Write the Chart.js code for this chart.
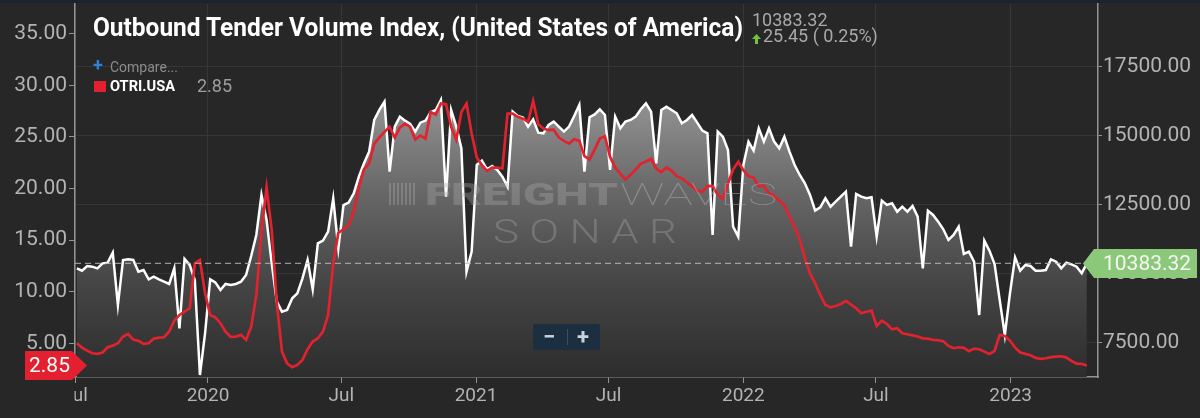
<!DOCTYPE html>
<html><head><meta charset="utf-8">
<script src="https://cdn.jsdelivr.net/npm/chart.js@4.4.1/dist/chart.umd.min.js"></script>
<style>
html,body{margin:0;padding:0;background:#272727;}
#wrap{position:relative;width:1200px;height:418px;overflow:hidden;background:#272727;font-family:Roboto,'Noto Sans',sans-serif;}
#c{position:absolute;left:0;top:0;}
#topbar{position:absolute;left:0;top:0;width:1200px;height:3px;background:#1b2330;}
.t{position:absolute;white-space:nowrap;line-height:1;pointer-events:none;}
.wm{position:absolute;white-space:nowrap;line-height:1;pointer-events:none;}
</style></head>
<body>
<div id="wrap">
  <canvas id="c"></canvas>
  <div id="topbar"></div>
  <div class="t" id="title" style="left:93px;top:14.7px;font-size:25px;font-weight:700;color:#ffffff;">Outbound Tender Volume Index, (United States of America)</div>
  <div class="t" style="left:93px;top:56px;font-size:18px;font-weight:700;color:#2f80d8;">+</div>
  <div class="t" style="left:110px;top:60px;font-size:14px;color:#8c8c8c;">Compare...</div>
  <div class="t" style="left:94px;top:81px;width:12px;height:11px;background:#e3202f;"></div>
  <div class="t" id="legname" style="left:110px;top:79px;font-size:15px;font-weight:700;color:#ffffff;">OTRI.USA</div>
  <div class="t" id="legval" style="left:197px;top:77px;font-size:18px;color:#9d9d9d;"></div>
  <div class="t" id="lastval" style="left:752px;top:10.7px;font-size:18px;color:#a9a9a9;"></div>
  <svg class="t" style="left:752px;top:34px;" width="9" height="10" viewBox="0 0 9 10"><path d="M4.5 0 L9 5 L6 5 L6 10 L3 10 L3 5 L0 5 Z" fill="#72c13f"/></svg>
  <div class="t" id="chg" style="left:763px;top:27px;font-size:18px;color:#a9a9a9;"></div>

  <div class="wm" style="left:389px;top:183px;width:26px;height:22px;background:repeating-linear-gradient(90deg,rgba(170,170,170,0.38) 0 2px,transparent 2px 4px);"></div>
  <div class="wm" id="wm1" style="left:425px;top:179px;font-size:31px;font-weight:900;color:rgba(170,170,170,0.36);">FREIGHT</div>
  <div class="wm" id="wm2" style="left:620px;top:179px;font-size:31px;font-weight:100;color:rgba(190,190,190,0.42);">WAVES</div>
  <div class="wm" id="wm3" style="left:493px;top:213.6px;font-size:34px;font-weight:300;letter-spacing:8px;color:rgba(170,170,170,0.36);">SONAR</div>

  <div class="t" style="left:533px;top:324px;width:67px;height:26px;background:#1c2f40;border-radius:2px;"></div>
  <div class="t" style="left:540px;top:326px;width:18px;text-align:center;font-size:22px;font-weight:700;color:#c9d3dd;">&#8722;</div>
  <div class="t" style="left:567px;top:329px;width:1px;height:16px;background:#3a4f62;"></div>
  <div class="t" style="left:574px;top:326px;width:18px;text-align:center;font-size:22px;font-weight:700;color:#c9d3dd;">+</div>
</div>
<script>
// ---------------- data ----------------
const weekStart = '2019-07-06';
const otviValues = [
10205,10121,10290,10266,10205,10387,10411,10773,8877,10507,
10531,10507,10085,10145,9807,9903,9807,9722,9638,10205,
8031,10544,10326,9783,6340,7850,9807,9698,9420,9638,
9601,9638,9722,9964,10652,11413,12863,11957,10387,8997,
8635,8695,9118,9299,9843,10507,9444,11111,11208,11534,
12742,10930,12500,12585,12923,13527,14010,14433,15581,15943,
16245,13709,15339,15702,15557,15436,15158,15484,15557,15859,
15943,16306,12803,15943,15339,14554,10085,10809,13950,14107,
13793,13914,13769,13527,13165,15883,15726,15665,15339,15605,
15122,15098,15400,15521,15339,15158,15339,15726,16125,13709,
15680,15780,15968,15762,13769,15702,15279,15521,15581,15702,
15968,16185,15883,14010,15943,16064,15943,15823,15460,15581,
15762,15484,15194,15098,11413,15158,14977,14494,11715,11353,
13950,14796,14470,15279,14796,15279,14796,14554,14977,14434,
13950,13588,13286,12863,12295,12416,12742,12440,12621,12803,
12984,10991,12899,12803,12742,12778,11353,12658,12501,12561,
12259,12440,12259,12464,12078,10205,12295,12138,11897,11619,
11232,11413,11715,10725,10809,10447,8514,11208,10846,10362,
9058,7789,9299,10604,10121,10326,10290,10121,10121,10145,
10532,10447,10205,10411,10350,10266,10030,10383.32
];
const otriValues = [
5.00,4.58,4.29,4.03,3.97,4.10,4.61,4.77,5.00,5.65,
5.90,5.35,5.23,4.94,5.00,5.45,5.55,5.58,6.13,7.19,
7.74,8.06,8.39,12.74,13.06,9.84,7.74,7.52,6.94,6.13,
5.61,5.65,5.81,5.32,6.61,9.68,15.81,20.10,15.97,8.87,
4.19,3.06,2.68,2.90,3.39,4.42,5.16,5.48,6.13,7.74,
12.74,15.71,16.03,16.45,17.74,20.16,21.87,22.42,24.35,24.94,
25.48,25.97,24.94,25.90,26.29,25.97,24.74,25.13,24.84,27.42,
27.16,28.23,28.16,25.97,24.74,27.42,28.23,25.32,23.00,22.26,
21.71,22.03,22.03,21.94,27.26,27.26,26.94,26.77,26.45,28.48,
26.23,25.81,25.65,25.71,24.94,24.61,24.35,24.77,24.61,23.13,
22.80,23.80,24.84,25.06,23.06,22.03,21.45,20.87,21.32,21.84,
22.42,22.61,22.87,21.94,21.58,22.03,21.71,21.19,20.97,20.58,
20.23,19.77,19.68,20.26,20.23,19.39,19.03,20.48,21.84,22.58,
21.77,21.19,21.06,20.23,20.23,19.52,19.29,18.81,18.39,17.26,
16.23,15.06,13.23,11.77,10.81,9.68,8.71,8.48,8.61,8.81,
9.10,8.75,8.39,7.90,8.06,8.16,6.68,7.19,6.87,6.35,
6.45,5.97,5.87,5.77,5.65,5.48,5.45,5.32,5.29,5.19,
4.74,4.52,4.61,4.55,4.23,4.48,4.42,4.19,3.97,4.26,
5.81,5.71,5.26,4.58,4.10,3.97,3.84,3.58,3.48,3.55,
3.65,3.71,3.74,3.61,3.29,3.03,3.00,2.85
];
const xTickDates = ['2019-07-01','2020-01-01','2020-07-01','2021-01-01','2021-07-01','2022-01-01','2022-07-01','2023-01-01'];
const xTickLabels = ['Jul','2020','Jul','2021','Jul','2022','Jul','2023'];
const leftTicks = [5,10,15,20,25,30,35];
const rightTicks = [7500,10000,12500,15000,17500];
const otviChange = 25.45;
const otviChangePct = 0.25;

// ---------------- derived ----------------
const DAY = 86400000;
const t0 = Date.parse(weekStart + 'T00:00:00Z');
const weekDates = otviValues.map((_, i) => t0 + i * 7 * DAY);
const xMin = Date.parse('2019-07-03T10:00:00Z');
const xMax = xMin + 1396.8 * DAY;
const lastOtvi = otviValues[otviValues.length - 1];
const lastOtri = otriValues[otriValues.length - 1];

document.getElementById('legval').textContent = lastOtri.toFixed(2);
document.getElementById('lastval').textContent = lastOtvi.toFixed(2);
document.getElementById('chg').textContent = otviChange.toFixed(2) + ' ( ' + otviChangePct.toFixed(2) + '%)';

const BG = '#272727';
const TICK = '#b3b3b3';
const AXIS = '#939393';

Chart.defaults.font.family = 'Roboto';

function noPad(s) { s.paddingTop = 0; s.paddingBottom = 0; s.paddingLeft = 0; s.paddingRight = 0; }

const overlay = {
  id: 'overlay',
  afterDatasetsDraw(chart) {
    const c = chart.ctx, a = chart.chartArea, y1 = chart.scales.y1, x = chart.scales.x;
    const yy = y1.getPixelForValue(lastOtvi);
    c.save();
    c.strokeStyle = 'rgba(185,190,180,0.75)';
    c.lineWidth = 1.2;
    c.setLineDash([6, 4]);
    c.beginPath();
    c.moveTo(a.left, yy);
    c.lineTo(x.getPixelForValue(weekDates[weekDates.length - 1]), yy);
    c.stroke();
    c.restore();
  },
  afterDraw(chart) {
    const c = chart.ctx, a = chart.chartArea;
    c.save();
    // hide the part of the first x label left of the plot
    c.fillStyle = BG;
    c.fillRect(0, a.bottom + 3, a.left - 0.5, 418 - a.bottom);
    // red tag (left)
    const yr = chart.scales.y.getPixelForValue(lastOtri);
    c.fillStyle = '#e3202f';
    c.beginPath();
    c.moveTo(25, yr - 14.5); c.lineTo(72, yr - 14.5); c.lineTo(87, yr);
    c.lineTo(72, yr + 14.5); c.lineTo(25, yr + 14.5); c.closePath(); c.fill();
    c.fillStyle = '#ffffff';
    c.font = '21px Roboto';
    c.textBaseline = 'middle';
    c.textAlign = 'left';
    c.fillText(lastOtri.toFixed(2), 29, yr + 1);
    // green tag (right)
    const yg = chart.scales.y1.getPixelForValue(lastOtvi);
    c.fillStyle = '#8cc87a';
    c.beginPath();
    c.moveTo(1083, yg); c.lineTo(1094, yg - 14.5); c.lineTo(1197, yg - 14.5);
    c.lineTo(1197, yg + 14.5); c.lineTo(1094, yg + 14.5); c.closePath(); c.fill();
    c.fillStyle = '#f4f8f2';
    c.fillText(lastOtvi.toFixed(2), 1103, yg + 1);
    c.restore();
  }
};

const ctx = document.getElementById('c');
new Chart(ctx, {
  type: 'line',
  data: {
    datasets: [
      {
        label: 'OTVI.USA',
        data: otviValues.map((v, i) => ({ x: weekDates[i], y: v })),
        yAxisID: 'y1',
        borderColor: '#ffffff',
        borderWidth: 2.5,
        borderJoinStyle: 'miter',
        pointRadius: 0,
        tension: 0,
        fill: 'start',
        order: 2,
        backgroundColor: (context) => {
          const ch = context.chart, ar = ch.chartArea;
          if (!ar) return 'rgba(110,110,110,1)';
          const g = ch.ctx.createLinearGradient(0, ar.top, 0, ar.bottom);
          g.addColorStop(0, '#b8b8b8');
          g.addColorStop(0.25, '#949494');
          g.addColorStop(0.5, '#686868');
          g.addColorStop(0.75, '#454545');
          g.addColorStop(1, '#2d2d2d');
          return g;
        }
      },
      {
        label: 'OTRI.USA',
        data: otriValues.map((v, i) => ({ x: weekDates[i], y: v })),
        yAxisID: 'y',
        borderColor: '#e1222f',
        borderWidth: 2.7,
        pointRadius: 0,
        tension: 0,
        fill: false,
        order: 1
      }
    ]
  },
  options: {
    responsive: true,
    maintainAspectRatio: false,
    animation: false,
    events: [],
    layout: { padding: { top: 4, left: 0, right: 0, bottom: 0 } },
    plugins: { legend: { display: false }, tooltip: { enabled: false }, title: { display: false } },
    scales: {
      x: {
        type: 'linear',
        min: xMin,
        max: xMax,
        afterBuildTicks: (s) => { s.ticks = xTickDates.map(d => ({ value: Math.max(Date.parse(d + 'T00:00:00Z'), xMin) })); },
        afterFit: (s) => { s.height = 41; noPad(s); },
        ticks: {
          autoSkip: false, maxRotation: 0, minRotation: 0, padding: 2,
          color: TICK, font: { size: 19 },
          callback: (v, i) => xTickLabels[i]
        },
        grid: { color: '#33383e', lineWidth: 1, tickLength: 6, tickColor: AXIS, drawOnChartArea: true },
        border: { color: AXIS, width: 1.5 }
      },
      y: {
        position: 'left',
        min: 1.73,
        max: 37.88,
        afterBuildTicks: (s) => { s.ticks = leftTicks.map(v => ({ value: v })); },
        afterFit: (s) => { s.width = 75; noPad(s); },
        ticks: { color: TICK, font: { size: 21 }, padding: 2, callback: (v) => Number(v).toFixed(2) },
        grid: { drawOnChartArea: false, tickLength: 6, color: AXIS, tickColor: AXIS },
        border: { color: AXIS, width: 1.5 }
      },
      y1: {
        position: 'right',
        min: 6268,
        max: 19782,
        afterBuildTicks: (s) => { s.ticks = rightTicks.map(v => ({ value: v })); },
        afterFit: (s) => { s.width = 102; noPad(s); },
        ticks: { color: TICK, font: { size: 21 }, padding: 1, callback: (v) => Number(v).toFixed(2) },
        grid: { drawOnChartArea: true, color: '#363636', tickLength: 4, tickColor: AXIS },
        border: { color: AXIS, width: 1.5 }
      }
    }
  },
  plugins: [overlay]
});

function fit(id, w, trailing) {
  const el = document.getElementById(id);
  el.style.transform = 'none';
  const nat = el.getBoundingClientRect().width - (trailing || 0);
  el.style.transformOrigin = '0 0';
  el.style.transform = 'scaleX(' + (w / nat) + ')';
}
function fitAll() {
  fit('title', 650);
  fit('legname', 65);
  fit('wm1', 193);
  fit('wm2', 157);
  fit('wm3', 184, 8);
}
fitAll();
if (document.fonts && document.fonts.ready) document.fonts.ready.then(fitAll);
</script>
</body></html>
